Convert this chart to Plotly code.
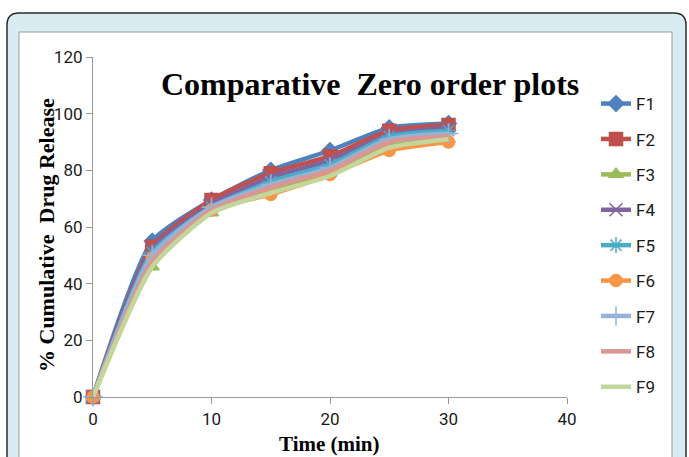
import plotly.graph_objects as go

time_min = [0, 5, 10, 15, 20, 25, 30]
F1 = [0, 55, 69.5, 80, 87, 95, 96.5]
F2 = [0, 53, 69.5, 79, 85, 94, 96]
F3 = [0, 46, 65, 72.5, 79, 88.5, 91]
F4 = [0, 52, 68, 77.5, 83.5, 92.5, 95]
F5 = [0, 51, 67, 76, 82, 92, 94]
F6 = [0, 49, 66, 71.5, 78.5, 87, 90]
F7 = [0, 50, 67, 75, 81, 91, 93]
F8 = [0, 48, 66, 74, 80, 90, 92]
F9 = [0, 46, 65, 72, 78, 88, 91]

names = ["F1", "F2", "F3", "F4", "F5", "F6", "F7", "F8", "F9"]
series = [F1, F2, F3, F4, F5, F6, F7, F8, F9]
colors = ["#4F81BD", "#C0504D", "#9BBB59", "#8064A2", "#4BACC6",
          "#F79646", "#95B3D7", "#D99694", "#C3D69B"]
symbols = ["diamond", "square", "triangle-up", "x-thin", "asterisk-open",
           "circle", "cross-thin", None, None]
msizes = [12, 13, 12, 13, 13, 12, 14, 0, 0]

fig = go.Figure()
for n, ys, c, s, ms in zip(names, series, colors, symbols, msizes):
    mode = "lines+markers" if s else "lines"
    mk = dict(color=c, size=ms, line=dict(color=c, width=1.5))
    if s:
        mk["symbol"] = s
    fig.add_trace(go.Scatter(
        x=time_min, y=ys, name=n, mode=mode,
        line=dict(color=c, width=4.5, shape="spline", smoothing=0.6),
        marker=mk, cliponaxis=False, legendgroup=n,
    ))

W, H = 689, 457
L, R, T, B = 93, 567, 57, 397

def px(x):
    return (x - L) / (R - L)

def py(y):
    return (B - y) / (B - T)

# outer rounded frame path
r = 12
x0, y0, x1, y1 = 7, 13, 686, 470
path = (f"M {px(x0)} {py(y0 + r)} "
        f"Q {px(x0)} {py(y0)} {px(x0 + r)} {py(y0)} "
        f"L {px(x1 - r)} {py(y0)} "
        f"Q {px(x1)} {py(y0)} {px(x1)} {py(y0 + r)} "
        f"L {px(x1)} {py(y1)} L {px(x0)} {py(y1)} Z")

shapes = [
    dict(type="rect", xref="paper", yref="paper", x0=px(-5), x1=px(700), y0=py(-5), y1=py(470),
         fillcolor="white", line=dict(width=0), layer="below"),
    dict(type="path", xref="paper", yref="paper", path=path,
         fillcolor="#D9ECF1", line=dict(color="#2b2b2b", width=1.5), layer="below"),
    dict(type="rect", xref="paper", yref="paper", x0=px(19), x1=px(672), y0=py(32), y1=py(470),
         fillcolor="white", line=dict(color="#9a9a9a", width=1), layer="below"),
]

tickfont = dict(family="Liberation Sans Narrow, Roboto, sans-serif", size=17, color="#1a1a1a")

fig.update_layout(
    width=W, height=H,
    margin=dict(l=L, r=W - R, t=T, b=H - B, pad=0),
    paper_bgcolor="white", plot_bgcolor="white",
    shapes=shapes,
    showlegend=True,
    legend=dict(x=px(596), y=py(86), xanchor="left", yanchor="top",
                font=dict(family="Liberation Sans Narrow, Roboto, sans-serif", size=17, color="#1a1a1a"),
                bgcolor="rgba(0,0,0,0)", tracegroupgap=10.3, itemwidth=30),
    xaxis=dict(range=[0, 40], tickvals=[0, 10, 20, 30, 40], showgrid=False, zeroline=False,
               showline=True, linecolor="#999999", linewidth=1.2,
               ticks="outside", ticklen=6, tickcolor="#999999", tickfont=tickfont),
    yaxis=dict(range=[0, 120], tickvals=[0, 20, 40, 60, 80, 100, 120], showgrid=False, zeroline=False,
               showline=True, linecolor="#999999", linewidth=1.2,
               ticks="outside", ticklen=6, tickcolor="#999999", tickfont=tickfont),
    annotations=[
        dict(text="<b>Comparative  Zero order plots</b>", xref="paper", yref="paper",
             x=px(370), y=py(84), xanchor="center", yanchor="middle", showarrow=False,
             font=dict(family="Liberation Serif, serif", size=32, color="black")),
        dict(text="<b>% Cumulative  Drug Release</b>", xref="paper", yref="paper",
             x=px(46), y=py(235), xanchor="center", yanchor="middle", showarrow=False,
             textangle=-90,
             font=dict(family="Liberation Serif, serif", size=22, color="black")),
        dict(text="<b>Time (min)</b>", xref="paper", yref="paper",
             x=px(329), y=py(444), xanchor="center", yanchor="middle", showarrow=False,
             font=dict(family="Liberation Serif, serif", size=21, color="black")),
    ],
)

fig.write_html("out.html")
